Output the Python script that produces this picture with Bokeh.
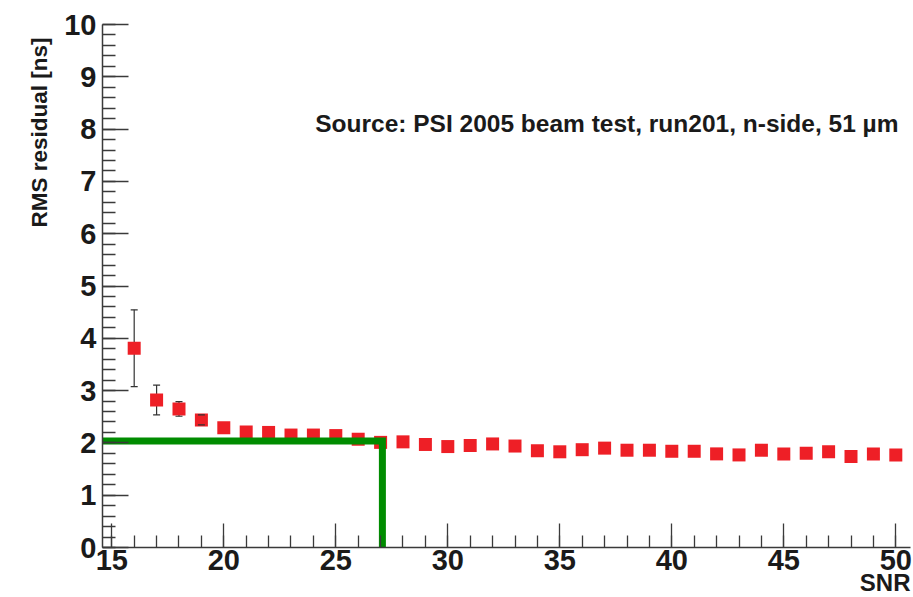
from bokeh.plotting import figure
from bokeh.models import FixedTicker, Label, Title, ColumnDataSource
from bokeh.embed import file_html
from bokeh.resources import INLINE

# ---- data ----
snr = [16, 17, 18, 19, 20, 21, 22, 23, 24, 25, 26, 27, 28, 29, 30, 31, 32, 33,
       34, 35, 36, 37, 38, 39, 40, 41, 42, 43, 44, 45, 46, 47, 48, 49, 50]
rms = [3.81, 2.82, 2.65, 2.44, 2.29, 2.21, 2.20, 2.15, 2.15, 2.14, 2.07, 2.01,
       2.02, 1.97, 1.93, 1.95, 1.98, 1.94, 1.85, 1.83, 1.87, 1.90, 1.86, 1.86,
       1.84, 1.84, 1.79, 1.77, 1.86, 1.79, 1.80, 1.83, 1.74, 1.79, 1.77]
rms_err = [0.735, 0.285, 0.14, 0.095, 0, 0, 0, 0, 0, 0, 0, 0, 0, 0, 0, 0, 0, 0,
           0, 0, 0, 0, 0, 0, 0, 0, 0, 0, 0, 0, 0, 0, 0, 0, 0]
x_ticks = [15, 20, 25, 30, 35, 40, 45, 50]
y_ticks = [0, 1, 2, 3, 4, 5, 6, 7, 8, 9, 10]
cut_snr = 27.08
cut_rms = 2.034
note_text = "Source: PSI 2005 beam test, run201, n-side, 51 \u00b5m"
x_title = "SNR"
y_title = "RMS residual [ns]"

FONT = "Liberation Sans"
AXIS_COL = "#3a3a3a"
TEXT_COL = "#1a1a1a"
RED = "#ee1f26"
GREEN = "#008c00"

X0, X1 = 14.585, 50.656

p = figure(width=913, height=597, x_range=(X0, X1), y_range=(0, 10),
           output_backend="svg", toolbar_location=None,
           min_border_left=102, min_border_right=3,
           min_border_top=24, min_border_bottom=50)

p.xgrid.visible = False
p.ygrid.visible = False
p.outline_line_color = None
p.background_fill_color = "white"
p.border_fill_color = "white"

p.xaxis.ticker = FixedTicker(ticks=x_ticks, minor_ticks=list(range(15, 51)))
p.yaxis.ticker = FixedTicker(ticks=y_ticks, minor_ticks=[i * 0.2 for i in range(51)])

for ax, maj, mnr, so in ((p.xaxis[0], 24, 12, 2), (p.yaxis[0], 26, 13, 6)):
    ax.axis_line_color = AXIS_COL
    ax.axis_line_width = 1.5
    ax.major_tick_line_color = AXIS_COL
    ax.minor_tick_line_color = AXIS_COL
    ax.major_tick_line_width = 1.3
    ax.minor_tick_line_width = 1.3
    ax.major_tick_in = maj
    ax.major_tick_out = 0
    ax.minor_tick_in = mnr
    ax.minor_tick_out = 0
    ax.major_label_standoff = so
    ax.major_label_text_font = FONT
    ax.major_label_text_font_size = "29px"
    ax.major_label_text_font_style = "bold"
    ax.major_label_text_color = TEXT_COL

# error bars
ex = [x for x, e in zip(snr, rms_err) if e > 0]
elo = [y - e for y, e in zip(rms, rms_err) if e > 0]
ehi = [y + e for y, e in zip(rms, rms_err) if e > 0]
err_src = ColumnDataSource(dict(x=ex, lo=elo, hi=ehi))
p.segment(x0="x", y0="lo", x1="x", y1="hi", source=err_src,
          line_color="#333333", line_width=1.2)

src = ColumnDataSource(dict(x=snr, y=rms))
p.scatter("x", "y", source=src, marker="square", size=13,
          fill_color=RED, line_color=None)

p.scatter("x", "lo", source=err_src, marker="dash", size=7,
          line_color="#333333", line_width=1.2)
p.scatter("x", "hi", source=err_src, marker="dash", size=7,
          line_color="#333333", line_width=1.2)

# cut lines
p.line([X0, cut_snr, cut_snr], [cut_rms, cut_rms, 0], line_width=7,
       line_color=GREEN, line_join="miter")

# texts
p.add_layout(Label(x=50.12, y=8.10, text=note_text, text_align="right",
                   text_baseline="alphabetic", text_font=FONT,
                   text_font_size="24.5px", text_font_style="bold",
                   text_color=TEXT_COL))

p.add_layout(Title(text=y_title, align="right", offset=13, standoff=20,
                   text_font=FONT, text_font_size="22.5px",
                   text_font_style="bold", text_color=TEXT_COL), "left")
p.add_layout(Title(text=x_title, align="right", offset=0, standoff=-11,
                   text_font=FONT, text_font_size="24px",
                   text_font_style="bold", text_color=TEXT_COL), "below")

open("out.html", "w").write(file_html(p, INLINE))
